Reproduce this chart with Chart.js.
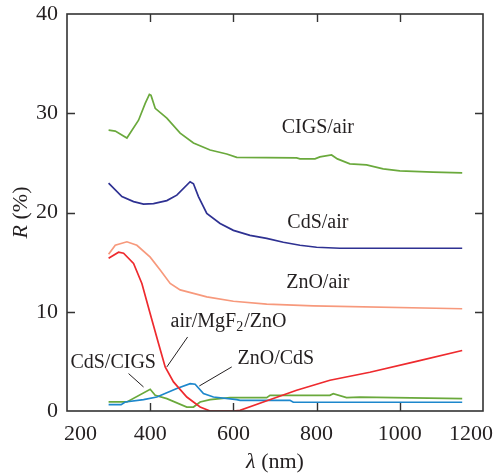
<!DOCTYPE html>
<html>
<head>
<meta charset="utf-8">
<script src="https://cdn.jsdelivr.net/npm/chart.js@4"></script>
<style>
  html, body { margin: 0; padding: 0; background: #fff; }
  #wrap { width: 494px; height: 476px; }
</style>
</head>
<body>
<div id="wrap"><canvas id="chart" width="494" height="476"></canvas></div>
<script>
// 축 눈금
const xTicks = [200, 400, 600, 800, 1000, 1200];
const yTicks = [0, 10, 20, 30, 40];

// CIGS/air
const cigsAirWl = [300, 316, 344, 372, 388, 398, 402, 412, 440, 472, 504, 544, 584, 608, 752, 760, 796, 808, 836, 850, 880, 920, 960, 1000, 1080, 1150];
const cigsAirR  = [28.3, 28.2, 27.5, 29.3, 31.0, 31.9, 31.8, 30.5, 29.5, 28.0, 27.0, 26.3, 25.9, 25.55, 25.5, 25.4, 25.4, 25.6, 25.8, 25.4, 24.9, 24.8, 24.4, 24.2, 24.07, 24.0];

// CdS/air
const cdsAirWl = [300, 332, 360, 384, 408, 440, 464, 496, 504, 516, 536, 568, 600, 640, 680, 720, 760, 800, 856, 1150];
const cdsAirR  = [22.95, 21.6, 21.1, 20.85, 20.9, 21.2, 21.75, 23.1, 22.9, 21.6, 19.9, 18.9, 18.2, 17.7, 17.4, 17.0, 16.7, 16.5, 16.4, 16.4];

// ZnO/air
const znoAirWl = [300, 316, 344, 368, 400, 424, 448, 472, 504, 536, 600, 680, 792, 1150];
const znoAirR  = [15.8, 16.7, 17.05, 16.7, 15.5, 14.2, 12.85, 12.2, 11.85, 11.5, 11.06, 10.76, 10.6, 10.3];

// air/MgF2/ZnO
const mgf2Wl = [300, 324, 336, 360, 380, 400, 420, 436, 456, 488, 520, 544, 600, 616, 672, 752, 832, 928, 1040, 1150];
const mgf2R  = [15.4, 16.0, 15.9, 14.86, 12.85, 9.8, 6.8, 4.44, 2.93, 1.41, 0.4, 0, 0, 0.07, 0.91, 2.09, 3.1, 3.9, 5.0, 6.1];

// ZnO/CdS
const znoCdsWl = [300, 330, 340, 384, 416, 464, 496, 508, 528, 552, 608, 616, 736, 744, 1150];
const znoCdsR  = [0.64, 0.64, 0.91, 1.15, 1.41, 2.26, 2.76, 2.7, 1.75, 1.41, 1.15, 1.08, 1.08, 0.88, 0.88];

// CdS/CIGS
const cdsCigsWl = [300, 344, 400, 412, 440, 488, 504, 520, 544, 592, 680, 688, 832, 840, 872, 904, 1150];
const cdsCigsR  = [0.91, 0.91, 2.19, 1.58, 1.25, 0.4, 0.4, 0.91, 1.15, 1.35, 1.35, 1.58, 1.58, 1.75, 1.35, 1.4, 1.25];

// 곡선 라벨 (텍스트, x, y)
const labelText = ["CIGS/air", "CdS/air", "ZnO/air", "CdS/CIGS", "ZnO/CdS"];
const labelX    = [803, 803, 803, 311, 702];
const labelY    = [28.5, 19.0, 12.9, 4.9, 5.3];

// 지시선 [x1, y1, x2, y2]
const leaders = [
  [490, 7.46, 440, 4.44],
  [348, 3.77, 384, 2.42],
  [596, 4.44, 518, 2.52]
];

const toPts = (wl, r) => wl.map((w, i) => ({ x: w, y: r[i] }));

const serif = '"Liberation Serif", "Times New Roman", serif';
const ink = "#231f20";

const line = (label, wl, r, color) => ({
  label,
  data: toPts(wl, r),
  borderColor: color,
  borderWidth: 1.7,
  pointRadius: 0,
  tension: 0,
  fill: false
});

const framePlugin = {
  id: "frame",
  afterDraw(chart) {
    const { ctx, chartArea: a, scales, width } = chart;
    const xs = scales.x, ys = scales.y;
    ctx.save();
    ctx.strokeStyle = "#333";
    ctx.lineWidth = 1.6;
    ctx.strokeRect(a.left, a.top, a.right - a.left, a.bottom - a.top);

    // 안쪽 눈금
    ctx.lineWidth = 1.4;
    const len = 8;
    xTicks.slice(1, -1).forEach(v => {
      const px = Math.round(xs.getPixelForValue(v)) + 0.5;
      ctx.beginPath();
      ctx.moveTo(px, a.bottom); ctx.lineTo(px, a.bottom - len);
      ctx.moveTo(px, a.top); ctx.lineTo(px, a.top + len);
      ctx.stroke();
    });
    yTicks.slice(1, -1).forEach(v => {
      const py = Math.round(ys.getPixelForValue(v)) + 0.5;
      ctx.beginPath();
      ctx.moveTo(a.left, py); ctx.lineTo(a.left + len, py);
      ctx.moveTo(a.right, py); ctx.lineTo(a.right - len, py);
      ctx.stroke();
    });

    // x축 눈금 라벨 (양 끝은 캔버스 안으로)
    ctx.fillStyle = ink;
    ctx.font = "22px " + serif;
    ctx.textBaseline = "middle";
    xTicks.forEach((v, i) => {
      let px = xs.getPixelForValue(v);
      ctx.textAlign = "center";
      if (i === 0) { ctx.textAlign = "left"; px = a.left - 3; }
      if (i === xTicks.length - 1) { ctx.textAlign = "right"; px = width - 1; }
      ctx.fillText(String(v), px, a.bottom + 23);
    });

    // 곡선 라벨
    ctx.font = "20px " + serif;
    ctx.textAlign = "center";
    labelText.forEach((t, i) => {
      ctx.fillText(t, xs.getPixelForValue(labelX[i]), ys.getPixelForValue(labelY[i]));
    });

    // air/MgF2/ZnO (아래 첨자)
    const mx = xs.getPixelForValue(587), my = ys.getPixelForValue(8.95);
    const p1 = "air/MgF", p2 = "2", p3 = "/ZnO";
    ctx.font = "20px " + serif;
    const w1 = ctx.measureText(p1).width, w3 = ctx.measureText(p3).width;
    ctx.font = "14px " + serif;
    const w2 = ctx.measureText(p2).width;
    let sx = mx - (w1 + w2 + w3) / 2;
    ctx.textAlign = "left";
    ctx.font = "20px " + serif;
    ctx.fillText(p1, sx, my);
    ctx.font = "14px " + serif;
    ctx.fillText(p2, sx + w1, my + 5);
    ctx.font = "20px " + serif;
    ctx.fillText(p3, sx + w1 + w2 + 1, my);

    // 지시선
    ctx.strokeStyle = ink;
    ctx.lineWidth = 1;
    leaders.forEach(l => {
      ctx.beginPath();
      ctx.moveTo(xs.getPixelForValue(l[0]), ys.getPixelForValue(l[1]));
      ctx.lineTo(xs.getPixelForValue(l[2]), ys.getPixelForValue(l[3]));
      ctx.stroke();
    });

    // 축 제목
    const xc = (a.left + a.right) / 2;
    ctx.font = "italic 22px " + serif;
    const lw = ctx.measureText("λ").width;
    ctx.font = "22px " + serif;
    const rw = ctx.measureText(" (nm)").width;
    let tx = xc - (lw + rw) / 2;
    ctx.textAlign = "left";
    ctx.font = "italic 22px " + serif;
    ctx.fillText("λ", tx, 462);
    ctx.font = "22px " + serif;
    ctx.fillText(" (nm)", tx + lw, 462);

    ctx.translate(21, (a.top + a.bottom) / 2);
    ctx.rotate(-Math.PI / 2);
    ctx.font = "italic 22px " + serif;
    const rW = ctx.measureText("R").width;
    ctx.font = "22px " + serif;
    const pW = ctx.measureText(" (%)").width;
    tx = -(rW + pW) / 2;
    ctx.font = "italic 22px " + serif;
    ctx.fillText("R", tx, 0);
    ctx.font = "22px " + serif;
    ctx.fillText(" (%)", tx + rW, 0);
    ctx.restore();
  }
};

new Chart(document.querySelector("#chart"), {
  type: "line",
  data: {
    datasets: [
      line("CIGS/air", cigsAirWl, cigsAirR, "#6aa93c"),
      line("CdS/air", cdsAirWl, cdsAirR, "#2e3192"),
      line("ZnO/air", znoAirWl, znoAirR, "#f7997c"),
      line("air/MgF2/ZnO", mgf2Wl, mgf2R, "#ee2a2e"),
      line("ZnO/CdS", znoCdsWl, znoCdsR, "#1d87cc"),
      line("CdS/CIGS", cdsCigsWl, cdsCigsR, "#6aa93c")
    ]
  },
  options: {
    responsive: false,
    animation: false,
    layout: { padding: { top: 14, right: 11, left: 0, bottom: 0 } },
    plugins: { legend: { display: false }, tooltip: { enabled: false } },
    scales: {
      x: {
        type: "linear",
        min: 200, max: 1200,
        afterBuildTicks: s => { s.ticks = xTicks.map(v => ({ value: v })); },
        afterFit: s => { s.height = 65; s.paddingLeft = 0; s.paddingRight = 0; },
        grid: { display: false, drawTicks: false },
        border: { display: false },
        ticks: { display: false }
      },
      y: {
        type: "linear",
        min: 0, max: 40,
        afterBuildTicks: s => { s.ticks = yTicks.map(v => ({ value: v })); },
        afterFit: s => { s.width = 67; s.paddingTop = 0; s.paddingBottom = 0; },
        grid: { display: false, drawTicks: false },
        border: { display: false },
        ticks: { padding: 9, color: ink, callback: v => String(v), font: { family: serif, size: 22 } }
      }
    }
  },
  plugins: [framePlugin]
});
</script>
</body>
</html>
